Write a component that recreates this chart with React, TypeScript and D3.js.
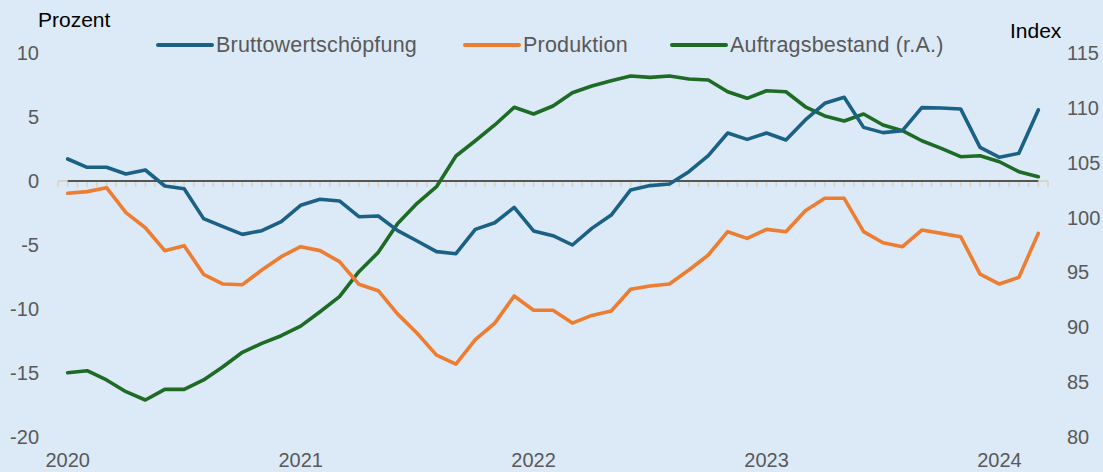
import React from "react";
import * as d3 from "d3";

const W = 1103;
const H = 472;

// Monthly, Jan 2020 .. Mar 2024 (51 points)
const yearTicks = ["2020", "2021", "2022", "2023", "2024"];

const bruttowertschoepfung = [
  1.72, 1.07, 1.07, 0.55, 0.86, -0.39, -0.6, -2.94, -3.57, -4.17, -3.88, -3.18,
  -1.9, -1.43, -1.56, -2.79, -2.73, -3.88, -4.69, -5.52, -5.68, -3.78, -3.26, -2.06,
  -3.9, -4.27, -5.0, -3.7, -2.66, -0.7, -0.36, -0.23, 0.73, 1.98, 3.75, 3.25,
  3.75, 3.2, 4.77, 6.07, 6.54, 4.19, 3.78, 3.93, 5.73, 5.7, 5.63, 2.63,
  1.85, 2.16, 5.55,
];

const produktion = [
  -0.96, -0.83, -0.52, -2.47, -3.65, -5.44, -5.05, -7.29, -8.05, -8.1, -6.95, -5.91,
  -5.13, -5.44, -6.3, -8.07, -8.57, -10.4, -11.9, -13.6, -14.3, -12.4, -11.1, -8.98,
  -10.1, -10.1, -11.1, -10.5, -10.16, -8.46, -8.2, -8.05, -6.95, -5.78, -3.96, -4.48,
  -3.78, -3.96, -2.32, -1.35, -1.35, -3.96, -4.82, -5.13, -3.83, -4.09, -4.35, -7.27,
  -8.05, -7.53, -4.09,
];

const auftragsbestand = [
  85.86, 86.04, 85.2, 84.13, 83.37, 84.34, 84.34, 85.2, 86.4, 87.72, 88.54, 89.23,
  90.11, 91.42, 92.79, 95.07, 96.83, 99.47, 101.3, 102.81, 105.61, 107.0, 108.44, 110.05,
  109.44, 110.17, 111.38, 111.99, 112.47, 112.9, 112.78, 112.9, 112.63, 112.54, 111.47, 110.87,
  111.56, 111.47, 110.1, 109.26, 108.8, 109.44, 108.44, 107.92, 107.0, 106.31, 105.55, 105.64,
  105.09, 104.18, 103.72,
];

const leftTicks = [10, 5, 0, -5, -10, -15, -20];
const rightTicks = [115, 110, 105, 100, 95, 90, 85, 80];

const seriesNames = ["Bruttowertschöpfung", "Produktion", "Auftragsbestand (r.A.)"];
const colors = ["#1b6185", "#ed7d31", "#1d6b25"];

const FONT = "'Liberation Sans', Arial, sans-serif";

export default function App() {
  const n = bruttowertschoepfung.length;
  const x = d3.scaleLinear().domain([-0.5, n - 0.5]).range([58, 1048]);
  const yL = d3.scaleLinear().domain([-20, 10]).range([437, 53]);
  const yR = d3.scaleLinear().domain([80, 115]).range([437, 53]);

  const lineL = d3
    .line<number>()
    .x((_, i) => x(i))
    .y((d) => yL(d));
  const lineR = d3
    .line<number>()
    .x((_, i) => x(i))
    .y((d) => yR(d));

  const halfTicks = d3.range(-0.5, n - 0.5 + 0.001, 0.5);
  const y0 = yL(0);

  const legendItems = [
    { x0: 158, name: seriesNames[0], color: colors[0] },
    { x0: 465, name: seriesNames[1], color: colors[1] },
    { x0: 672, name: seriesNames[2], color: colors[2] },
  ];

  return (
    <svg
      width={W}
      height={H}
      style={{ position: "absolute", left: 0, top: 0, display: "block" }}
    >
      <rect x={0} y={0} width={W} height={H} fill="#dce9f7" />

      {/* light axis line with ticks */}
      <line x1={x(-0.5)} x2={x(n - 0.5)} y1={y0} y2={y0} stroke="#d9d4c8" strokeWidth={2} />
      {halfTicks.map((t, i) => (
        <line key={i} x1={x(t)} x2={x(t)} y1={y0} y2={y0 + 6} stroke="#d9d4c8" strokeWidth={1.6} />
      ))}
      {/* zero line */}
      <line x1={x(0)} x2={x(n - 1)} y1={y0} y2={y0} stroke="#2b2b2b" strokeWidth={1.4} />

      {/* series */}
      <path d={lineR(auftragsbestand) || ""} fill="none" stroke={colors[2]} strokeWidth={3.6} strokeLinejoin="round" strokeLinecap="round" />
      <path d={lineL(produktion) || ""} fill="none" stroke={colors[1]} strokeWidth={3.6} strokeLinejoin="round" strokeLinecap="round" />
      <path d={lineL(bruttowertschoepfung) || ""} fill="none" stroke={colors[0]} strokeWidth={3.6} strokeLinejoin="round" strokeLinecap="round" />

      {/* left axis */}
      {leftTicks.map((t) => (
        <text key={t} x={39} y={yL(t) + 7} textAnchor="end" fontFamily={FONT} fontSize={20} fill="#595959">
          {t}
        </text>
      ))}
      {/* right axis */}
      {rightTicks.map((t) => (
        <text key={t} x={1067} y={yR(t) + 7} textAnchor="start" fontFamily={FONT} fontSize={20} fill="#595959">
          {t}
        </text>
      ))}
      {/* x axis years */}
      {yearTicks.map((lab, i) => (
        <text key={lab} x={x(i * 12)} y={467} textAnchor="middle" fontFamily={FONT} fontSize={20} fill="#595959">
          {lab}
        </text>
      ))}

      {/* axis titles */}
      <text x={38} y={27} fontFamily={FONT} fontSize={21} fill="#000">Prozent</text>
      <text x={1010} y={38} fontFamily={FONT} fontSize={21} fill="#000">Index</text>

      {/* legend */}
      {legendItems.map((it) => (
        <g key={it.name}>
          <line x1={it.x0} x2={it.x0 + 54} y1={45} y2={45} stroke={it.color} strokeWidth={4} strokeLinecap="round" />
          <text x={it.x0 + 58} y={52} fontFamily={FONT} fontSize={21.5} letterSpacing={0.2} fill="#595959">
            {it.name}
          </text>
        </g>
      ))}
    </svg>
  );
}
